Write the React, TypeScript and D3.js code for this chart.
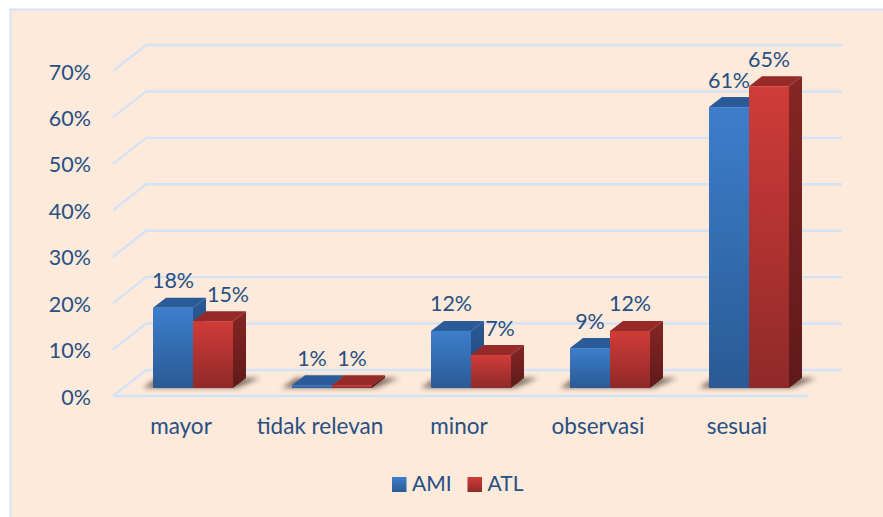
import { useEffect, useRef } from "react"
import * as d3 from "d3"

const categories = ["mayor", "tidak relevan", "minor", "observasi", "sesuai"]
const seriesNames = ["AMI", "ATL"]
// bar heights, the printed labels are rounded differently
const amiValues = [17.3, 0.6, 12.3, 8.6, 60.5]
const atlValues = [14.4, 0.6, 7.1, 12.3, 65]
const amiLabels = ["18%", "1%", "12%", "9%", "61%"]
const atlLabels = ["15%", "1%", "7%", "12%", "65%"]
const yTicks = [0, 10, 20, 30, 40, 50, 60, 70]

const textColor = "#264f82"
const gridColor = "#d3e2f5"
const fontFamily = "Lato, sans-serif"

export default function App() {
  const svgRef = useRef<SVGSVGElement>(null)

  useEffect(() => {
    if (!svgRef.current) return

    const svg = d3.select(svgRef.current)
    svg.selectAll("*").remove()

    const depthX = 13
    const depthY = 10
    const barWidth = 40

    // back wall, the front plane is shifted down and left from it
    const yWall = d3.scaleLinear().domain([0, 70]).range([370, 45])
    const yBar = d3.scaleLinear().domain([0, 70]).range([388, 63])
    const xBand = d3.scaleBand<string>().domain(categories).range([123.5, 818.5])

    const poly = d3.line<[number, number]>().curve(d3.curveLinearClosed)
    const defs = svg.append("defs")

    const addGradient = (id: string, top: string, bottom: string) => {
      const g = defs
        .append("linearGradient")
        .attr("id", id)
        .attr("x1", 0)
        .attr("y1", 0)
        .attr("x2", 0)
        .attr("y2", 1)
      g.append("stop").attr("offset", "0%").attr("stop-color", top)
      g.append("stop").attr("offset", "100%").attr("stop-color", bottom)
    }
    addGradient("amiFront", "#3d7ecb", "#2a5a95")
    addGradient("atlFront", "#d03c38", "#90292a")
    addGradient("amiSide", "#2a5a95", "#1f4470")
    addGradient("atlSide", "#862625", "#5e1a19")

    defs
      .append("filter")
      .attr("id", "shadowBlur")
      .attr("x", "-20%")
      .attr("y", "-60%")
      .attr("width", "140%")
      .attr("height", "220%")
      .append("feGaussianBlur")
      .attr("stdDeviation", 2.5)

    // background
    svg
      .append("rect")
      .attr("x", 10.5)
      .attr("y", 9.5)
      .attr("width", 890)
      .attr("height", 520)
      .attr("fill", "#fdeadb")
      .attr("stroke", gridColor)
      .attr("stroke-width", 2)

    // grid lines with their diagonal on the side wall
    svg
      .append("g")
      .selectAll("path")
      .data(yTicks)
      .join("path")
      .attr("fill", "none")
      .attr("stroke", gridColor)
      .attr("stroke-width", 2.4)
      .attr("d", (d) => `M113,${yWall(d) + 26}L146,${yWall(d)}H842`)

    // front edge of the floor
    svg
      .append("line")
      .attr("x1", 113)
      .attr("x2", 808)
      .attr("y1", yWall(0) + 26)
      .attr("y2", yWall(0) + 26)
      .attr("stroke", gridColor)
      .attr("stroke-width", 2.4)

    // y axis labels
    svg
      .append("g")
      .selectAll("text")
      .data(yTicks)
      .join("text")
      .attr("x", 91)
      .attr("y", (d) => yWall(d) + 27)
      .attr("dy", "0.35em")
      .attr("text-anchor", "end")
      .attr("font-family", fontFamily)
      .attr("font-size", 21.5)
      .attr("fill", textColor)
      .text((d) => `${d}%`)

    // floor shadows
    svg
      .append("g")
      .attr("filter", "url(#shadowBlur)")
      .selectAll("path")
      .data(categories)
      .join("path")
      .attr("fill", "#3f3026")
      .attr("fill-opacity", 0.65)
      .attr("d", (c) => {
        const cx = (xBand(c) as number) + xBand.bandwidth() / 2
        const base = yBar(0)
        return poly([
          [cx - barWidth - 10, base],
          [cx + barWidth + 4, base],
          [cx + barWidth + depthX + 14, base - depthY],
          [cx - barWidth + 4, base - depthY],
        ])
      })

    const drawBar = (cat: string, x0: number, value: number, front: string, side: string, topFill: string) => {
      const g = svg.append("g").attr("data-cat", cat)
      const top = yBar(value)
      const base = yBar(0)
      const x1 = x0 + barWidth
      g.append("path")
        .attr("fill", `url(#${side})`)
        .attr("d", poly([
          [x1, top],
          [x1 + depthX, top - depthY],
          [x1 + depthX, base - depthY],
          [x1, base],
        ]))
      g.append("path")
        .attr("fill", topFill)
        .attr("d", poly([
          [x0, top],
          [x0 + depthX, top - depthY],
          [x1 + depthX, top - depthY],
          [x1, top],
        ]))
      g.append("rect")
        .attr("x", x0)
        .attr("y", top)
        .attr("width", barWidth)
        .attr("height", base - top)
        .attr("fill", `url(#${front})`)
    }

    categories.forEach((c, i) => {
      const cx = (xBand(c) as number) + xBand.bandwidth() / 2
      drawBar(c, cx - barWidth, amiValues[i], "amiFront", "amiSide", "#2a5b98")
      drawBar(c, cx, atlValues[i], "atlFront", "atlSide", "#962a28")
    })

    // data labels, two of the red ones sit pushed right in the original
    const redNudge: Record<string, number> = { mayor: 15, minor: 9 }
    const addLabel = (x: number, y: number, t: string) => {
      svg
        .append("text")
        .attr("x", x)
        .attr("y", y)
        .attr("text-anchor", "middle")
        .attr("font-family", fontFamily)
        .attr("font-size", 21.5)
        .attr("fill", textColor)
        .text(t)
    }
    categories.forEach((c, i) => {
      const cx = (xBand(c) as number) + xBand.bandwidth() / 2
      addLabel(cx - barWidth / 2, yBar(amiValues[i]) - 19.5, amiLabels[i])
      addLabel(cx + barWidth / 2 + (redNudge[c] || 0), yBar(atlValues[i]) - 19.5, atlLabels[i])
    })

    // category labels
    svg
      .append("g")
      .selectAll("text")
      .data(categories)
      .join("text")
      .attr("x", (c) => (xBand(c) as number) + xBand.bandwidth() / 2 - 12)
      .attr("y", 434)
      .attr("text-anchor", "middle")
      .attr("font-family", fontFamily)
      .attr("font-size", 22.5)
      .attr("fill", textColor)
      .text((c) => c)

    // legend
    const legendX = [392, 467.5]
    seriesNames.forEach((name, i) => {
      svg
        .append("rect")
        .attr("x", legendX[i])
        .attr("y", 477)
        .attr("width", 14.5)
        .attr("height", 15)
        .attr("fill", i === 0 ? "url(#amiFront)" : "url(#atlFront)")
      svg
        .append("text")
        .attr("x", legendX[i] + 20)
        .attr("y", 491)
        .attr("font-family", fontFamily)
        .attr("font-size", 21)
        .attr("fill", textColor)
        .text(name)
    })
  }, [])

  return <svg ref={svgRef} width={883} height={517} style={{ position: "absolute", left: 0, top: 0, background: "#fff" }} />
}
